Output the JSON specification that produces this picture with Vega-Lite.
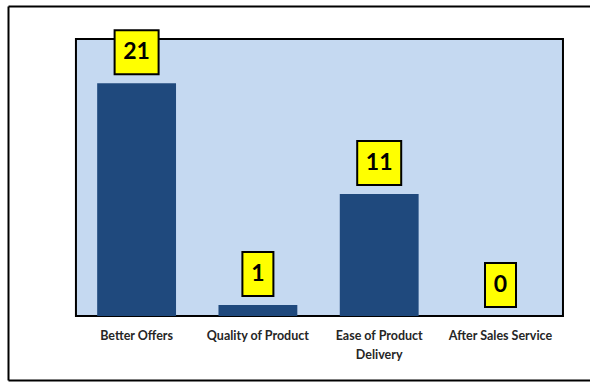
{
  "$schema": "https://vega.github.io/schema/vega-lite/v6.json",
  "width": 582,
  "height": 374,
  "autosize": {"type": "none"},
  "padding": {"left": 8, "top": 6, "right": 0, "bottom": 3},
  "background": "white",
  "config": {"view": {"stroke": null}, "font": "Lato"},
  "data": {
    "values": [
      {"reason": "Better Offers", "count": 21},
      {"reason": "Quality of Product", "count": 1},
      {"reason": "Ease of Product Delivery", "count": 11},
      {"reason": "After Sales Service", "count": 0}
    ]
  },
  "encoding": {
    "x": {
      "field": "reason",
      "type": "nominal",
      "sort": null,
      "scale": {
        "domain": ["Better Offers", "Quality of Product", "Ease of Product Delivery", "After Sales Service"],
        "paddingInner": 0,
        "paddingOuter": 0.399,
        "align": 0.702
      },
      "axis": {
        "title": null,
        "offset": -64,
        "domain": false,
        "ticks": false,
        "labelAngle": 0,
        "labelPadding": 13,
        "labelFontSize": 12.5,
        "labelFontWeight": "bold",
        "labelColor": "#262626",
        "labelLimit": 200,
        "labelLineHeight": 19,
        "labelExpr": "datum.value == 'Ease of Product Delivery' ? ['Ease of Product', 'Delivery'] : datum.label"
      }
    }
  },
  "layer": [
    {
      "data": {"values": [{}]},
      "mark": {"type": "rect", "fill": "#c5d9f1", "stroke": "black", "strokeWidth": 2},
      "encoding": {
        "x": {"datum": "Better Offers", "type": "nominal", "bandPosition": 0},
        "x2": {"datum": "After Sales Service", "bandPosition": 1.015},
        "y": {"datum": 0, "type": "quantitative"},
        "y2": {"datum": 25}
      }
    },
    {
      "mark": {"type": "bar", "color": "#1f497d", "width": {"band": 0.65}},
      "encoding": {
        "y": {
          "field": "count",
          "type": "quantitative",
          "scale": {"domain": [-5.78, 27.98], "nice": false, "zero": false},
          "axis": {
            "title": null,
            "values": [-5.78, 27.98],
            "grid": true,
            "gridColor": "black",
            "gridWidth": 2,
            "labels": false,
            "ticks": false,
            "domain": true,
            "domainColor": "black",
            "domainWidth": 2
          }
        }
      }
    },
    {
      "transform": [{"filter": "datum.count >= 10"}],
      "mark": {"type": "bar", "fill": "#ffff00", "stroke": "black", "strokeWidth": 2, "width": 44, "yOffset": -53, "y2Offset": -9},
      "encoding": {
        "y": {"field": "count", "type": "quantitative"},
        "y2": {"field": "count"}
      }
    },
    {
      "transform": [{"filter": "datum.count < 10"}],
      "mark": {"type": "bar", "fill": "#ffff00", "stroke": "black", "strokeWidth": 2, "width": 31, "yOffset": -53, "y2Offset": -9},
      "encoding": {
        "y": {"field": "count", "type": "quantitative"},
        "y2": {"field": "count"}
      }
    },
    {
      "mark": {"type": "text", "fontSize": 23, "fontWeight": "bold", "color": "black", "baseline": "middle", "yOffset": -31},
      "encoding": {
        "y": {"field": "count", "type": "quantitative"},
        "text": {"field": "count", "type": "quantitative"}
      }
    }
  ]
}
